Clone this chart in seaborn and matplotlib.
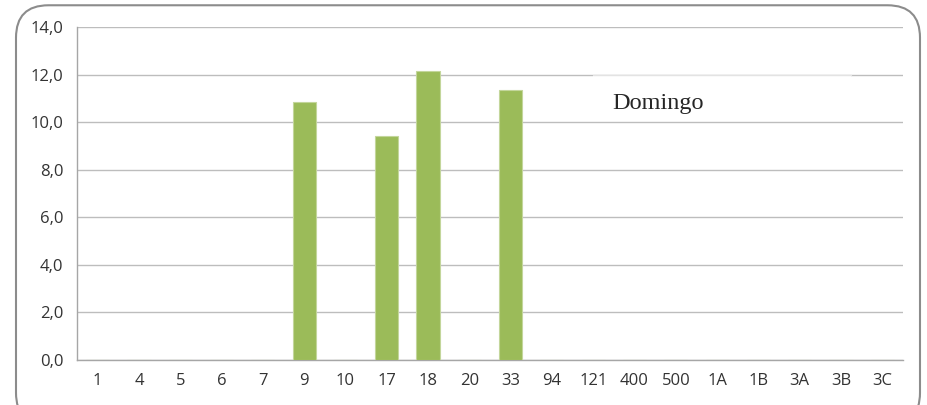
import numpy as np
import pandas as pd
import matplotlib
matplotlib.use("Agg")
import matplotlib.pyplot as plt
import seaborn as sns
from matplotlib.patches import FancyBboxPatch, Rectangle
from matplotlib.ticker import FuncFormatter, MultipleLocator, FixedLocator

# data
lines = ["1", "4", "5", "6", "7", "9", "10", "17", "18", "20", "33",
         "94", "121", "400", "500", "1A", "1B", "3A", "3B", "3C"]
values = [0, 0, 0, 0, 0, 10.84, 0, 9.41, 12.14, 0, 11.34,
          0, 0, 0, 0, 0, 0, 0, 0, 0]
label = "Domingo"

df = pd.DataFrame({"linha": lines, "valor": values})

sns.set_style("white")
plt.rcParams["font.family"] = ["Open Sans", "DejaVu Sans"]

fig = plt.figure(figsize=(9.28, 4.05), dpi=100)
ax = fig.add_axes([0.083, 0.111, 0.890, 0.822])

sns.barplot(data=df, x="linha", y="valor", order=lines, color="#9BBB59",
            saturation=1, width=0.56, edgecolor="#C3D69B", linewidth=0.8,
            ax=ax, zorder=3)

ax.set_ylim(0, 14)
ax.set_xlim(-0.5, len(lines) - 0.5)
ax.yaxis.set_major_locator(MultipleLocator(2))
ax.yaxis.set_major_formatter(FuncFormatter(lambda v, p: f"{v:.1f}".replace(".", ",")))
ax.grid(axis="y", color="#BDBDBD", linewidth=1, zorder=0)
ax.set_axisbelow(True)
ax.set_xlabel("")
ax.set_ylabel("")

for s in ["top", "right"]:
    ax.spines[s].set_visible(False)
for s in ["left", "bottom"]:
    ax.spines[s].set_color("#A6A6A6")
    ax.spines[s].set_linewidth(1)

# tick marks between categories, labels centred
ax.xaxis.set_minor_locator(FixedLocator(np.arange(-0.5, len(lines), 1)))
ax.tick_params(axis="x", which="major", length=0, pad=9, labelsize=12, labelcolor="#333333")
ax.tick_params(axis="x", which="minor", length=5, width=1, color="#A6A6A6", direction="out")
ax.tick_params(axis="y", which="major", length=5, width=1, color="#A6A6A6", direction="out",
               pad=5, labelsize=12, labelcolor="#333333")

# white label box over the gridline, with a faint line where the gridline was
ax.add_patch(Rectangle((0.625, 0.718), 0.312, 0.139, transform=ax.transAxes,
                       facecolor="white", edgecolor="none", zorder=4))
ax.plot([0.625, 0.937], [12 / 14, 12 / 14], transform=ax.transAxes,
        color="#E3E3E3", linewidth=1, zorder=4.5)
ax.text(0.648, 0.772, label, transform=ax.transAxes, fontsize=17.5,
        family=["Liberation Serif"], va="center", ha="left", zorder=5)

# rounded chart frame
fig.patches.append(FancyBboxPatch((16 / 928, -0.05), 904 / 928, 1.037,
                                  boxstyle="round,pad=0,rounding_size=0.035",
                                  transform=fig.transFigure, facecolor="none",
                                  edgecolor="#8C8C8C", linewidth=1.5,
                                  mutation_aspect=928 / 405))

fig.savefig("out.png", dpi=100)
